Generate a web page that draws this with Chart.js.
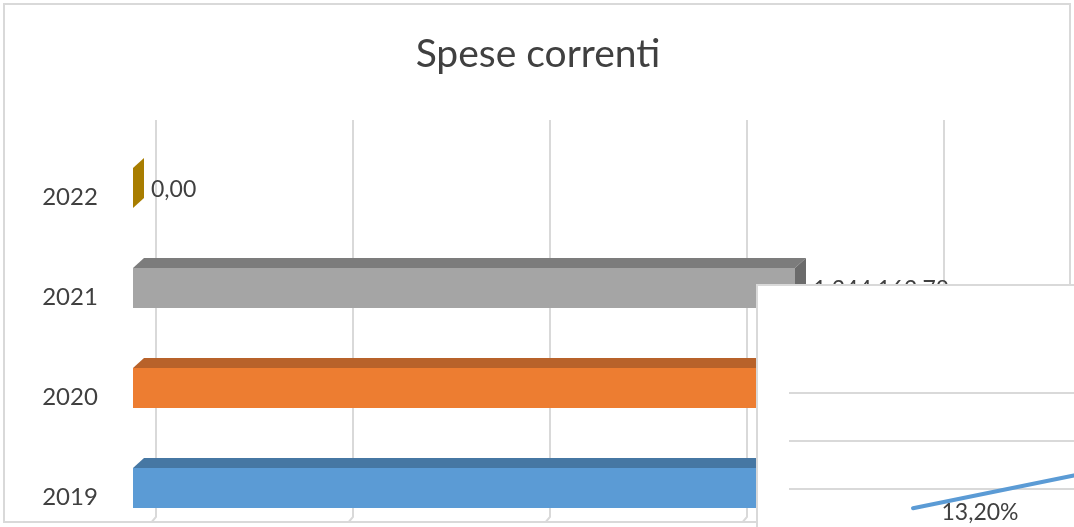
<!DOCTYPE html>
<html>
<head>
<meta charset="utf-8">
<script src="https://cdn.jsdelivr.net/npm/chart.js@4.4.1/dist/chart.umd.min.js"></script>
<style>
  html, body { margin: 0; padding: 0; background: #fff; overflow: hidden; width: 1074px; height: 527px; }
  #main-box { position: absolute; left: 3px; top: 3px; width: 1064px; height: 516px; border: 2px solid #d9d9d9; overflow: hidden; background: #fff; }
  #main-box canvas { position: absolute; left: -5px; top: -5px; }
  #over-box { position: absolute; left: 756px; top: 284px; width: 600px; height: 400px; border: 2px solid #d9d9d9; overflow: hidden; background: #fff; }
  #over-box canvas { position: absolute; left: 0; top: 0; }
</style>
</head>
<body>
<div id="main-box"><canvas id="grafico-spese" width="1074" height="560"></canvas></div>
<div id="over-box"><canvas id="grafico-percentuale" width="540" height="360"></canvas></div>
<script>
// dati principali
const anni = ['2019', '2020', '2021', '2022'];
const speseCorrenti = [1452380.55, 1418755.20, 1344162.78, 0];
const passoAsse = 400000;
const maxAsse = 1600000;

// grafico sovrapposto (in parte fuori dall'immagine)
const anniPerc = ['2021', '2022'];
const percentuali = [13.20, 15.30];

const coloriFronte = ['#5b9bd5', '#ed7d31', '#a5a5a5', '#ffc000'];
const coloriSopra = ['#4677a3', '#b8622a', '#7c7c7c', '#c79600'];
const coloriLato = ['#3d6890', '#a35624', '#6b6b6b', '#a87d00'];

const profX = 11, profY = 10;

function formatoIt(v) {
    const parti = v.toFixed(2).split('.');
    parti[0] = parti[0].replace(/\B(?=(\d{3})+(?!\d))/g, '.');
    return parti[0] + ',' + parti[1];
}

const griglia3d = {
    id: 'griglia3d',
    beforeDatasetsDraw(chart) {
        const ctx = chart.ctx;
        const xs = chart.scales.x;
        ctx.save();
        ctx.strokeStyle = '#d9d9d9';
        ctx.lineWidth = 2;
        for (let v = 0; v <= maxAsse; v += passoAsse) {
            const x = xs.getPixelForValue(v) + 23;
            ctx.beginPath();
            ctx.moveTo(x, 120);
            ctx.lineTo(x, 517);
            ctx.lineTo(x - 6, 524);
            ctx.stroke();
        }
        ctx.restore();
    },
    afterDatasetsDraw(chart) {
        const ctx = chart.ctx;
        const meta = chart.getDatasetMeta(0);
        const ys = chart.scales.y;
        ctx.save();
        meta.data.forEach((bar, i) => {
            const p = bar.getProps(['x', 'y', 'base', 'height'], true);
            const top = p.y - p.height / 2;
            const bottom = p.y + p.height / 2;
            // faccia superiore
            if (p.x - p.base > 0.5) {
                ctx.fillStyle = coloriSopra[i];
                ctx.beginPath();
                ctx.moveTo(p.base, top);
                ctx.lineTo(p.base + profX, top - profY);
                ctx.lineTo(p.x + profX, top - profY);
                ctx.lineTo(p.x, top);
                ctx.closePath();
                ctx.fill();
            }
            // faccia laterale
            ctx.fillStyle = coloriLato[i];
            ctx.beginPath();
            ctx.moveTo(p.x, top);
            ctx.lineTo(p.x + profX, top - profY);
            ctx.lineTo(p.x + profX, bottom - profY);
            ctx.lineTo(p.x, bottom);
            ctx.closePath();
            ctx.fill();
            // etichetta valore
            ctx.fillStyle = '#404040';
            ctx.font = '23px Lato';
            ctx.textAlign = 'left';
            ctx.textBaseline = 'middle';
            ctx.fillText(formatoIt(speseCorrenti[i]), p.x + 18, p.y + 2);
        });
        // etichette categorie
        ctx.font = '24px Lato';
        ctx.textAlign = 'center';
        anni.forEach((a, i) => {
            ctx.fillText(a, 70, ys.getPixelForValue(i) + 9);
        });
        // titolo
        ctx.font = '39px Lato';
        ctx.fillStyle = '#404040';
        ctx.fillText('Spese correnti', 538, 54);
        ctx.restore();
    }
};

new Chart(document.getElementById('grafico-spese').getContext('2d'), {
    type: 'bar',
    data: {
        labels: anni,
        datasets: [{
            data: speseCorrenti,
            backgroundColor: coloriFronte,
            borderWidth: 0,
            categoryPercentage: 1,
            barPercentage: 0.4
        }]
    },
    options: {
        indexAxis: 'y',
        responsive: false,
        animation: false,
        layout: { padding: { left: 133, right: 153, top: 138, bottom: 22 } },
        plugins: { legend: { display: false }, tooltip: { enabled: false }, title: { display: false } },
        scales: {
            x: { display: false, min: 0, max: maxAsse },
            y: { display: false, reverse: true }
        }
    },
    plugins: [griglia3d]
});

const etichettePerc = {
    id: 'etichettePerc',
    afterDatasetsDraw(chart) {
        const ctx = chart.ctx;
        ctx.save();
        ctx.fillStyle = '#404040';
        ctx.font = '23px Lato';
        ctx.textAlign = 'center';
        ctx.textBaseline = 'middle';
        chart.getDatasetMeta(0).data.forEach((pt, i) => {
            ctx.fillText(percentuali[i].toFixed(2).replace('.', ',') + '%', pt.x + 67, pt.y + 4);
        });
        ctx.restore();
    }
};

new Chart(document.getElementById('grafico-percentuale').getContext('2d'), {
    type: 'line',
    data: {
        labels: anniPerc,
        datasets: [{
            data: percentuali,
            borderColor: '#5b9bd5',
            borderWidth: 4,
            borderCapStyle: 'round',
            pointRadius: 0,
            tension: 0
        }]
    },
    options: {
        responsive: false,
        animation: false,
        layout: { padding: { left: 31, right: 13, top: 107, bottom: 61 } },
        plugins: { legend: { display: false }, tooltip: { enabled: false } },
        scales: {
            x: { display: false, offset: true },
            y: {
                min: 10, max: 18,
                ticks: { display: false, stepSize: 2 },
                border: { display: false },
                grid: { color: '#d9d9d9', lineWidth: 2, drawTicks: false }
            }
        }
    },
    plugins: [etichettePerc]
});
</script>
</body>
</html>
